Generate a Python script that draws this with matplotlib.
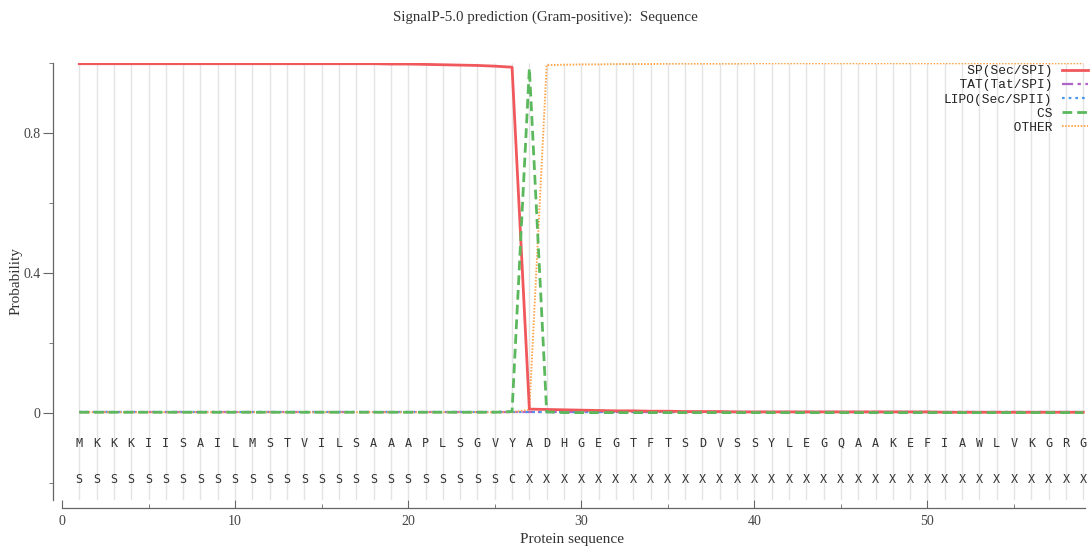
# SignalP-5.0 prediction plot (gnuplot look) redone in matplotlib

import matplotlib.pyplot as plt
import numpy as np

seq = list("MKKKIISAILMSTVILSAAAPLSGVYADHGEGTFTSDVSSYLEGQAAKEFIAWLVKGRG")
pred = list("S" * 25 + "C" + "X" * 33)
pos = list(range(1, 60))

sp = [0.998] * 18 + [0.997, 0.997, 0.996, 0.995, 0.994, 0.993, 0.991, 0.988,
                     0.010, 0.009, 0.008, 0.007, 0.006, 0.005, 0.005, 0.004,
                     0.004, 0.003, 0.003, 0.003, 0.002, 0.002] + [0.002] * 10 + [0.001] * 9
tat = [0.002] * 59
lipo = [0.001] * 59
cs = [0.001] * 25 + [0.003, 0.985, 0.002] + [0.0] * 31
other = [0.001] * 26 + [0.008, 0.994, 0.995, 0.996, 0.996, 0.997, 0.997, 0.997,
                        0.998, 0.998, 0.998, 0.998, 0.998] + [0.999] * 20

plt.rcParams['font.family'] = 'Liberation Serif'
fig = plt.figure(figsize=(10.91, 5.47), dpi=100)
ax = fig.add_axes([62 / 1091, 1 - 500 / 547, 1023 / 1091, 437 / 547])

# light vertical line at every residue
ax.vlines(pos, -0.25, 1.0, color='#e4e4e4', lw=1, zorder=0)

ax.plot(pos, sp, color='#f0585c', lw=2.0, label='SP(Sec/SPI)', zorder=3)
ax.plot(pos, tat, color='#b064c8', lw=1.6, dashes=(5, 2, 1.5, 2), label='TAT(Tat/SPI)', zorder=2)
ax.plot(pos, lipo, color='#4a98ee', lw=1.6, dashes=(1.2, 1.8), label='LIPO(Sec/SPII)', zorder=2)
ax.plot(pos, cs, color='#5cb85c', lw=2.0, dashes=(3.5, 1.8), label='CS', zorder=3)
ax.plot(pos, other, color='#ffa64d', lw=1.4, dashes=(0.8, 0.8), label='OTHER', zorder=2)

# sequence and predicted labels below zero
for p, a, s in zip(pos, seq, pred):
    ax.text(p, -0.088, a, ha='center', va='center', family='DejaVu Sans Mono',
            fontsize=8.5, color='#333333')
    ax.text(p, -0.19, s, ha='center', va='center', family='DejaVu Sans Mono',
            fontsize=8.5, color='#333333')

ax.set_xlim(0, 59.1)
ax.set_ylim(-0.25, 1.0)

for side in ['top', 'right']:
    ax.spines[side].set_visible(False)
ax.spines['left'].set_position(('outward', 6.5))
ax.spines['bottom'].set_position(('outward', 5.5))
for side in ['left', 'bottom']:
    ax.spines[side].set_color('#666666')
    ax.spines[side].set_linewidth(0.9)

ax.set_yticks([0, 0.4, 0.8])
ax.set_yticklabels(['0', '0.4', '0.8'])
ax.set_yticks([-0.2, 0.2, 0.6, 1.0], minor=True)
ax.tick_params(axis='y', which='major', direction='out', length=7, color='#666666',
               labelsize=10, labelcolor='#444444', pad=2)
ax.tick_params(axis='y', which='minor', direction='out', length=3, color='#666666')

ax.set_xticks([0, 10, 20, 30, 40, 50])
ax.set_xticks([5, 15, 25, 35, 45, 55], minor=True)
ax.tick_params(axis='x', which='major', direction='in', length=6, color='#666666',
               labelsize=10, labelcolor='#444444', pad=5)
ax.tick_params(axis='x', which='minor', direction='in', length=3, color='#666666')

fig.text(0.5, 1 - 17 / 547, 'SignalP-5.0 prediction (Gram-positive):  Sequence',
         ha='center', va='center', fontsize=10.8, color='#333333')
fig.text(16 / 1091, 1 - 281 / 547, 'Probability', rotation=90, ha='center', va='center',
         fontsize=11, color='#333333')
fig.text(572 / 1091, 1 - 540 / 547, 'Protein sequence', ha='center', va='center',
         fontsize=11, color='#333333')

# gnuplot style key: right aligned monospace text, sample after it
handles, labels = ax.get_legend_handles_labels()
labels = [l.rjust(14) for l in labels]
leg = fig.legend(handles, labels, loc='upper right', bbox_to_anchor=(1088 / 1091, 1 - 65 / 547),
                 frameon=False, markerfirst=False, handlelength=2.0, handletextpad=0.75,
                 labelspacing=0.17, borderpad=0, borderaxespad=0,
                 prop={'family': 'Liberation Mono', 'size': 9.3})
for t in leg.get_texts():
    t.set_color('#222222')

fig.savefig('out.png', dpi=100)
